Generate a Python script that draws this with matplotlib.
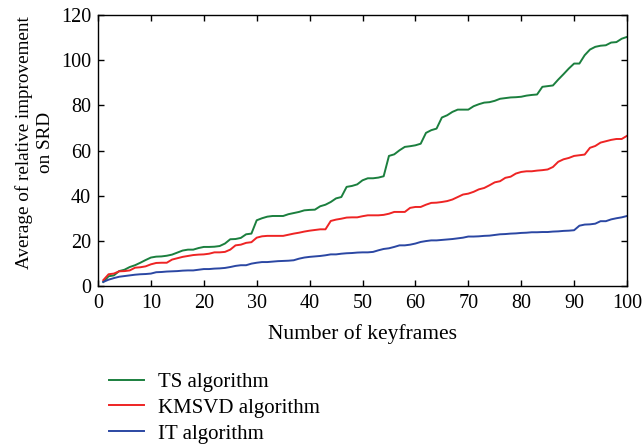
import matplotlib.pyplot as plt
import numpy as np

# --- DATA ---
keyframes = np.arange(1, 101)

ts_vals = [1.8, 4.3, 4.7, 6.6, 7.2, 8.4, 9.2, 10.3, 11.5, 12.6,
           13.0, 13.1, 13.4, 13.9, 14.8, 15.7, 16.1, 16.1, 16.8, 17.3,
           17.3, 17.4, 17.7, 18.8, 20.7, 20.8, 21.3, 22.9, 23.2, 29.1,
           30.0, 30.7, 31.0, 31.0, 31.0, 31.8, 32.3, 32.8, 33.5, 33.7,
           33.8, 35.3, 36.0, 37.2, 38.8, 39.4, 43.9, 44.3, 45.0, 46.8,
           47.7, 47.7, 48.0, 48.6, 57.6, 58.3, 60.1, 61.6, 61.9, 62.3,
           63.0, 67.8, 69.0, 69.7, 74.6, 75.6, 77.1, 78.1, 78.1, 78.1,
           79.6, 80.5, 81.2, 81.4, 82.0, 82.9, 83.2, 83.5, 83.6, 83.8,
           84.3, 84.6, 84.8, 88.2, 88.5, 88.8, 91.4, 93.8, 96.3, 98.5,
           98.5, 102.2, 104.7, 105.9, 106.4, 106.6, 107.8, 108.0, 109.5, 110.3]

kmsvd_vals = [2.6, 5.2, 5.5, 6.5, 6.6, 6.9, 8.1, 8.3, 8.7, 9.6,
              10.2, 10.3, 10.3, 11.7, 12.3, 12.9, 13.3, 13.7, 13.9, 14.0,
              14.3, 14.9, 14.9, 15.1, 16.1, 18.0, 18.3, 19.1, 19.4, 21.4,
              22.0, 22.2, 22.2, 22.2, 22.2, 22.7, 23.2, 23.6, 24.1, 24.5,
              24.8, 25.1, 25.1, 28.8, 29.4, 29.8, 30.3, 30.4, 30.4, 30.9,
              31.3, 31.3, 31.3, 31.5, 32.0, 32.8, 32.8, 32.8, 34.6, 35.0,
              35.0, 36.0, 36.8, 36.9, 37.2, 37.6, 38.3, 39.4, 40.5, 40.9,
              41.7, 42.8, 43.4, 44.6, 45.9, 46.4, 47.9, 48.4, 49.8, 50.5,
              50.8, 50.8, 51.1, 51.3, 51.6, 52.7, 55.0, 56.1, 56.7, 57.6,
              57.9, 58.2, 61.2, 62.0, 63.5, 64.1, 64.7, 65.1, 65.1, 66.5]

it_vals = [1.8, 2.8, 3.5, 4.1, 4.4, 4.7, 5.0, 5.2, 5.3, 5.5,
           6.1, 6.2, 6.4, 6.5, 6.6, 6.8, 6.9, 6.9, 7.2, 7.5,
           7.5, 7.7, 7.8, 8.0, 8.4, 8.9, 9.2, 9.2, 9.9, 10.3,
           10.6, 10.6, 10.8, 11.0, 11.1, 11.2, 11.4, 12.1, 12.6, 12.9,
           13.1, 13.3, 13.6, 14.0, 14.0, 14.3, 14.5, 14.6, 14.8, 14.9,
           14.9, 15.1, 15.8, 16.4, 16.7, 17.3, 18.0, 18.0, 18.3, 18.8,
           19.5, 19.9, 20.2, 20.2, 20.4, 20.6, 20.8, 21.1, 21.4, 21.9,
           21.9, 22.0, 22.2, 22.3, 22.6, 22.9, 23.0, 23.2, 23.3, 23.5,
           23.6, 23.8, 23.8, 23.9, 23.9, 24.1, 24.2, 24.4, 24.5, 24.7,
           26.7, 27.2, 27.3, 27.6, 28.7, 28.7, 29.5, 30.0, 30.4, 31.0]

labels = ["TS algorithm", "KMSVD algorithm", "IT algorithm"]
colors = ["#1b7f3e", "#ee2424", "#2b47a3"]

# --- PLOTTING ---
plt.rcParams['font.family'] = ['Liberation Serif', 'DejaVu Serif']

fig = plt.figure(figsize=(6.43, 4.45), dpi=100)
ax = fig.add_axes([98 / 643, 1 - 286 / 445, 529 / 643, 271 / 445])

for vals, lab, c in zip([ts_vals, kmsvd_vals, it_vals], labels, colors):
    ax.plot(keyframes, vals, color=c, lw=1.4, label=lab)

ax.set_xlim(0, 100)
ax.set_ylim(0, 120)
ax.set_xticks(np.arange(0, 101, 10))
ax.set_yticks(np.arange(0, 121, 20))
ax.tick_params(direction='in', length=4, width=1, top=True, right=True,
               labelsize=14.5)
ax.tick_params(axis='x', pad=6)
ax.tick_params(axis='y', pad=5)
for sp in ax.spines.values():
    sp.set_linewidth(1)

ax.set_xlabel("Number of keyframes", fontsize=15.5, labelpad=8)
ax.set_ylabel("Average of relative improvement\non SRD", fontsize=13.8,
              linespacing=1.35)
ax.yaxis.set_label_coords(-0.083, 0.53)

fig.legend(loc='upper left', bbox_to_anchor=(101 / 643, 1 - 364 / 445),
           frameon=False, fontsize=15, handlelength=1.65, handletextpad=0.7,
           labelspacing=0.3, borderaxespad=0)

fig.savefig('out.png', dpi=100)
